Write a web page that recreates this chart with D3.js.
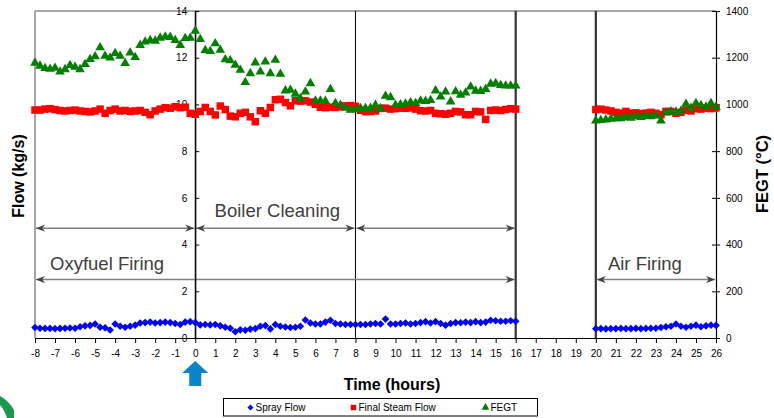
<!DOCTYPE html>
<html lang="en">
<head>
<meta charset="UTF-8">
<title>Flow and FEGT</title>
<style>
    body { margin: 0; background: #fff; }
    svg { font-family: "Liberation Sans", Arial, sans-serif; }
    .tick text { font-size: 10px; fill: #000; }
    .axis path, .axis line { stroke: #000; }
</style>
</head>
<body>
<script src="https://d3js.org/d3.v7.min.js"></script>
<script>
    const width = 774;
    const height = 418;

    // sampling: every 0.25 h, oxyfuel + cleaning block -8..16 h, air firing block 20..26 h
    const oxyStart = -8, airStart = 20, step = 0.25;

    const fegtOxy = [1178, 1165, 1155, 1152, 1156, 1140, 1150, 1168, 1160, 1150, 1172, 1193, 1205, 1244, 1207, 1200,
        1219, 1207, 1176, 1221, 1202, 1254, 1268, 1275, 1272, 1285, 1290, 1288, 1275, 1254, 1283, 1284,
        1315, 1279, 1232, 1228, 1261, 1233, 1192, 1188, 1169, 1147, 1095, 1133, 1179, 1140, 1183, 1133,
        1190, 1130, 1059, 1062, 1045, 1026, 1054, 1090, 1016, 1016, 1014, 1065, 1005, 997, 985, 976,
        978, 983, 983, 985, 997, 983, 1036, 1030, 997, 1000, 1003, 1008, 1005, 1016, 1014, 1018,
        1059, 1033, 1054, 1012, 1055, 1040, 1050, 1076, 1058, 1057, 1065, 1088, 1090, 1082, 1080, 1080, 1080];
    const steamOxy = [9.76, 9.76, 9.8, 9.82, 9.78, 9.74, 9.72, 9.74, 9.76, 9.72, 9.7, 9.68, 9.72, 9.8, 9.62, 9.74,
        9.8, 9.72, 9.74, 9.7, 9.72, 9.74, 9.66, 9.56, 9.72, 9.8, 9.86, 9.84, 9.9, 9.86, 9.88, 9.62,
        9.58, 9.7, 9.87, 9.7, 9.55, 9.93, 9.78, 9.5, 9.47, 9.62, 9.66, 9.47, 9.26, 9.73, 9.62, 9.87,
        10.2, 10.22, 10.08, 9.94, 10.16, 10.14, 10.16, 10.1, 10.0, 9.88, 9.86, 9.88, 9.87, 9.9, 9.94, 9.95,
        9.92, 9.75, 9.69, 9.7, 9.72, 9.83, 9.84, 9.8, 9.82, 9.84, 9.83, 9.85, 9.8, 9.73, 9.72, 9.74,
        9.62, 9.6, 9.58, 9.62, 9.7, 9.68, 9.56, 9.56, 9.7, 9.68, 9.36, 9.74, 9.76, 9.74, 9.78, 9.82, 9.8];
    const sprayOxy = [0.45, 0.42, 0.41, 0.41, 0.4, 0.41, 0.42, 0.43, 0.42, 0.48, 0.52, 0.54, 0.6, 0.46, 0.44, 0.34,
        0.6, 0.5, 0.46, 0.5, 0.55, 0.64, 0.66, 0.68, 0.64, 0.66, 0.68, 0.66, 0.62, 0.58, 0.68, 0.7,
        0.66, 0.56, 0.58, 0.56, 0.58, 0.52, 0.46, 0.42, 0.27, 0.35, 0.33, 0.38, 0.4, 0.5, 0.53, 0.39,
        0.58, 0.5, 0.47, 0.45, 0.46, 0.5, 0.77, 0.64, 0.6, 0.6, 0.68, 0.76, 0.62, 0.6, 0.58, 0.58,
        0.58, 0.58, 0.58, 0.6, 0.62, 0.6, 0.81, 0.6, 0.6, 0.62, 0.64, 0.6, 0.62, 0.66, 0.7, 0.64,
        0.7, 0.62, 0.55, 0.62, 0.66, 0.65, 0.68, 0.66, 0.7, 0.66, 0.68, 0.76, 0.74, 0.72, 0.72, 0.74, 0.72];

    const fegtAir = [930, 932, 935, 938, 940, 940, 945, 942, 948, 945, 950, 948, 952, 930, 965, 970,
        968, 972, 1002, 985, 1005, 995, 990, 1005, 990];
    const steamAir = [9.78, 9.8, 9.76, 9.72, 9.66, 9.62, 9.7, 9.62, 9.64, 9.6, 9.63, 9.66, 9.62, 9.56, 9.7, 9.7,
        9.62, 9.66, 9.75, 9.72, 9.82, 9.8, 9.84, 9.82, 9.85];
    const sprayAir = [0.4, 0.4, 0.39, 0.4, 0.4, 0.41, 0.4, 0.4, 0.41, 0.4, 0.41, 0.42, 0.42, 0.45, 0.48, 0.5,
        0.6, 0.5, 0.46, 0.5, 0.55, 0.48, 0.52, 0.55, 0.54];

    const xTicks = d3.range(-8, 27, 1);
    const flowTicks = [0, 2, 4, 6, 8, 10, 12, 14];
    const fegtTicks = [0, 200, 400, 600, 800, 1000, 1200, 1400];
    const eventLines = [0, 8, 16, 20];
    const phaseArrows = [
        {from: -8, to: 0, flow: 4.7},
        {from: 0, to: 8, flow: 4.7},
        {from: 8, to: 16, flow: 4.7},
        {from: -8, to: 16, flow: 2.5},
        {from: 20, to: 26, flow: 2.5}
    ];
    const phaseLabels = [
        {text: 'Boiler Cleaning', t: 4.1, flow: 5.2},
        {text: 'Oxyfuel Firing', t: -4.4, flow: 2.9},
        {text: 'Air Firing', t: 22.45, flow: 2.9}
    ];

    function rows(start, values) {
        return values.map((v, i) => ({t: start + i * step, v: v}));
    }
    const plain = d => String(d);

    const svg = d3.select('body').append('svg').attr('width', width).attr('height', height);

    const x = d3.scaleLinear().domain([-8, 26]).range([35, 716]);
    const yFlow = d3.scaleLinear().domain([0, 14]).range([338, 11]);
    const yFegt = d3.scaleLinear().domain([0, 1400]).range([338, 11]);

    // plot frame (grey on left and top)
    svg.append('line').attr('x1', x(-8)).attr('x2', x(-8)).attr('y1', yFlow(14)).attr('y2', yFlow(0))
        .attr('stroke', '#888').attr('stroke-width', 1.5);
    svg.append('line').attr('x1', x(-8)).attr('x2', x(26)).attr('y1', yFlow(14)).attr('y2', yFlow(14))
        .attr('stroke', '#888').attr('stroke-width', 1.5);

    // event verticals
    svg.selectAll('.event').data(eventLines).enter().append('line')
        .attr('class', 'event')
        .attr('x1', d => x(d)).attr('x2', d => x(d))
        .attr('y1', yFlow(14)).attr('y2', yFlow(0))
        .attr('stroke', d => d >= 16 ? '#333' : '#000')
        .attr('stroke-width', d => d >= 16 ? 2.2 : 1);

    // arrows
    const defs = svg.append('defs');
    defs.append('marker').attr('id', 'ah').attr('viewBox', '0 0 10 10')
        .attr('refX', 10).attr('refY', 5).attr('markerWidth', 9).attr('markerHeight', 9)
        .attr('markerUnits', 'userSpaceOnUse').attr('orient', 'auto-start-reverse')
        .append('path').attr('d', 'M0,1 L10,5 L0,9 L3,5 Z').attr('fill', '#444');

    svg.selectAll('.phase').data(phaseArrows).enter().append('line')
        .attr('class', 'phase')
        .attr('x1', d => x(d.from) + 1).attr('x2', d => x(d.to) - 1)
        .attr('y1', d => yFlow(d.flow)).attr('y2', d => yFlow(d.flow))
        .attr('stroke', '#808080').attr('stroke-width', 1.5)
        .attr('marker-start', 'url(#ah)').attr('marker-end', 'url(#ah)');

    svg.selectAll('.plabel').data(phaseLabels).enter().append('text')
        .attr('class', 'plabel')
        .attr('x', d => x(d.t)).attr('y', d => yFlow(d.flow))
        .attr('text-anchor', 'middle')
        .attr('font-size', 18.5).attr('fill', '#404040')
        .text(d => d.text);

    // axes
    svg.append('g').attr('class', 'axis')
        .attr('transform', `translate(0,${yFlow(0)})`)
        .call(d3.axisBottom(x).tickValues(xTicks).tickSize(5).tickSizeOuter(0).tickFormat(plain))
        .call(g => g.selectAll('.tick text').attr('dy', '1.05em'));

    const leftAxis = svg.append('g').attr('class', 'axis')
        .attr('transform', `translate(${x(0)},0)`)
        .call(d3.axisLeft(yFlow).tickValues(flowTicks).tickSize(4).tickSizeOuter(0).tickPadding(4).tickFormat(plain));
    leftAxis.selectAll('.tick line').attr('x2', 4);

    const rightAxis = svg.append('g').attr('class', 'axis')
        .attr('transform', `translate(${x(26)},0)`)
        .call(d3.axisRight(yFegt).tickValues(fegtTicks).tickSize(4).tickSizeOuter(0).tickPadding(6).tickFormat(plain));
    rightAxis.selectAll('.tick line').attr('x1', -4);
    svg.selectAll('.axis .domain').attr('stroke-width', 1.2);

    // series
    const spray = rows(oxyStart, sprayOxy).concat(rows(airStart, sprayAir));
    const steam = rows(oxyStart, steamOxy).concat(rows(airStart, steamAir));
    const fegt = rows(oxyStart, fegtOxy).concat(rows(airStart, fegtAir));

    const sq = d3.symbol().type(d3.symbolSquare).size(56);
    const tri = d3.symbol().type(d3.symbolTriangle).size(40);
    const dia = 'M0,-3.8 L3.8,0 L0,3.8 L-3.8,0 Z';

    svg.append('g').selectAll('path').data(spray).enter().append('path')
        .attr('d', dia).attr('fill', '#0000ff')
        .attr('transform', d => `translate(${x(d.t)},${yFlow(d.v)})`);
    svg.append('g').selectAll('path').data(steam).enter().append('path')
        .attr('d', sq).attr('fill', '#ff0000')
        .attr('transform', d => `translate(${x(d.t)},${yFlow(d.v)})`);
    svg.append('g').selectAll('path').data(fegt).enter().append('path')
        .attr('d', tri).attr('fill', '#008000')
        .attr('transform', d => `translate(${x(d.t)},${yFegt(d.v)})`);

    // axis titles
    svg.append('text').attr('transform', 'translate(24,176) rotate(-90)')
        .attr('text-anchor', 'middle').attr('font-size', 16).attr('font-weight', 'bold')
        .text('Flow (kg/s)');
    svg.append('text').attr('transform', 'translate(768,174) rotate(-90)')
        .attr('text-anchor', 'middle').attr('font-size', 16.5).attr('font-weight', 'bold')
        .text('FEGT (°C)');
    svg.append('text').attr('x', 392).attr('y', 390)
        .attr('text-anchor', 'middle').attr('font-size', 16).attr('font-weight', 'bold')
        .text('Time (hours)');

    // start marker arrow under t = 0
    const ax = x(0);
    svg.append('path')
        .attr('d', `M${ax},361 L${ax + 13},373 L${ax + 6},373 L${ax + 6},386 L${ax - 6},386 L${ax - 6},373 L${ax - 13},373 Z`)
        .attr('fill', '#0a84c8');

    // corner decoration
    svg.append('path').attr('d', 'M0,396 Q9,401 14,410 L14,418 L7,418 Q4,409 0,405 Z').attr('fill', '#1a9a4a');

    // legend
    const legend = svg.append('g').attr('transform', 'translate(223.5,398.5)');
    legend.append('rect').attr('width', 314).attr('height', 17.5).attr('fill', '#fff')
        .attr('stroke', '#000').attr('stroke-width', 1);
    const items = [
        {name: 'Spray Flow', d: 'M0,-3 L3,0 L0,3 L-3,0 Z', color: '#0000ff', x: 27},
        {name: 'Final Steam Flow', d: d3.symbol().type(d3.symbolSquare).size(30)(), color: '#ff0000', x: 130},
        {name: 'FEGT', d: d3.symbol().type(d3.symbolTriangle).size(26)(), color: '#008000', x: 262}
    ];
    const li = legend.selectAll('.li').data(items).enter().append('g')
        .attr('transform', d => `translate(${d.x},9)`);
    li.append('path').attr('d', d => d.d).attr('fill', d => d.color);
    li.append('text').attr('x', 5).attr('y', 3.5).attr('font-size', 10).text(d => d.name);
</script>
</body>
</html>
